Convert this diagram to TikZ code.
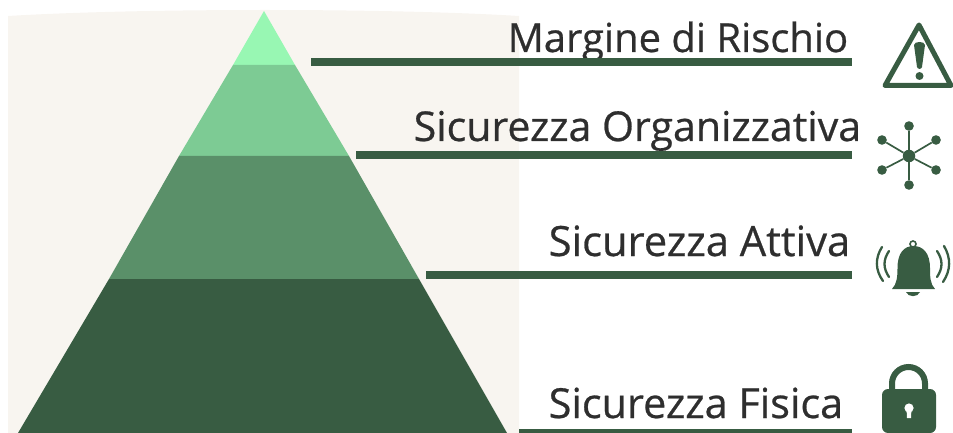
\documentclass[tikz,border=0pt]{standalone}
\usepackage{fontspec}
\setmainfont{Open Sans}[FakeBold=0.6]
\definecolor{dk}{HTML}{385C42}
\definecolor{bgc}{HTML}{F8F5F0}
\definecolor{l1}{HTML}{98F7B3}
\definecolor{l2}{HTML}{7DCB94}
\definecolor{l3}{HTML}{5A9069}
\definecolor{txt}{HTML}{2E2E2E}
\tikzset{
  lab/.style={anchor=base west,inner sep=0pt,text=txt},
  rule/.style={draw=dk,line width=8pt},
  hub/.style={circle,fill=dk,inner sep=0pt,minimum size=9.6pt},
  spoke/.style={draw=dk,line width=1.7pt},
  wave/.style={draw=dk,line width=2.3pt,line cap=round}
}
\begin{document}
\begin{tikzpicture}[x=1pt,y=-1pt]
\useasboundingbox (0,0) rectangle (953,433);
\fill[bgc] (8,16) .. controls (140,8) and (390,8) .. (519,16) -- (519,433) -- (8,433) -- cycle;
\fill[l1] (264,11) -- (295,65) -- (233,65) -- cycle;
\fill[l2] (233,65) -- (295,65) -- (349,156) -- (179,156) -- cycle;
\fill[l3] (179,156) -- (349,156) -- (419,279) -- (109,279) -- cycle;
\fill[dk] (109,279) -- (419,279) -- (507,433) -- (18,433) -- cycle;
% labels
\node[lab,font=\fontsize{40.0}{40}\selectfont] (t1) at (507.5,52) {Margine di Rischio};
\node[lab,font=\fontsize{41.1}{41}\selectfont] (t2) at (413.5,141) {Sicurezza Organizzativa};
\node[lab,font=\fontsize{41.7}{41}\selectfont] (t3) at (548.5,256) {Sicurezza Attiva};
\node[lab,font=\fontsize{41.4}{41}\selectfont] (t4) at (548.5,418) {Sicurezza Fisica};
% rules
\coordinate (a1) at (311,62); \coordinate (b1) at (852,62);
\coordinate (a2) at (356,155.5); \coordinate (b2) at (852,155.5);
\coordinate (a3) at (426,274.5); \coordinate (b3) at (852,274.5);
\coordinate (a4) at (519,433); \coordinate (b4) at (852,433);
\draw[rule] (a1) -- (b1);
\draw[rule] (a2) -- (b2);
\draw[rule] (a3) -- (b3);
\draw[rule] (a4) -- (b4);
% warning icon
\draw[dk,line width=5pt,line join=round] (919,25) -- (951,85.5) -- (885,85.5) -- cycle;
\fill[dk] (914,45) .. controls (914,41) and (925,41) .. (925,45) -- (922,67) .. controls (921.5,69.5) and (917.5,69.5) .. (917,67) -- cycle;
\fill[dk] (919.5,76) circle (4pt);
% network icon
\node[hub,minimum size=12.5pt] (h) at (909,156) {};
\foreach \n/\x/\y in {n1/909/126,n2/936/140,n3/936/170,n4/909/185,n5/882/170,n6/882/140}{
  \node[hub] (\n) at (\x,\y) {};
  \draw[spoke] (h) -- (\n);
}
% bell icon
\fill[dk] (892,289) .. controls (897,284) and (897.5,276) .. (897.5,268) .. controls (897.5,253) and (904,246) .. (913.5,246) .. controls (923,246) and (930,253) .. (930,268) .. controls (930,276) and (930,284) .. (935,289) -- cycle;
\draw[dk,line width=1.6pt] (913,244) circle (3pt);
\fill[dk] (906,292) -- (920,292) .. controls (918,297.5) and (908,297.5) .. (906,292) -- cycle;
\draw[wave] (882,247) .. controls (875,258) and (875,270) .. (883,281);
\draw[wave] (889,251) .. controls (883,260) and (883,268) .. (889,277);
\draw[wave] (944,246) .. controls (951,258) and (951,270) .. (943,282);
\draw[wave] (937,251) .. controls (943,260) and (943,268) .. (937,277);
% lock icon
\draw[dk,line width=6pt] (892,393) -- (892,383.5) arc[start angle=180,end angle=0,radius=16.5pt] -- (925,393);
\fill[dk,rounded corners=6pt] (882,389) rectangle (936,433);
\fill[white] (909,408) circle (4.6pt);
\fill[white] (906.6,410) -- (911.4,410) -- (911,418) -- (907,418) -- cycle;
\end{tikzpicture}
\end{document}
